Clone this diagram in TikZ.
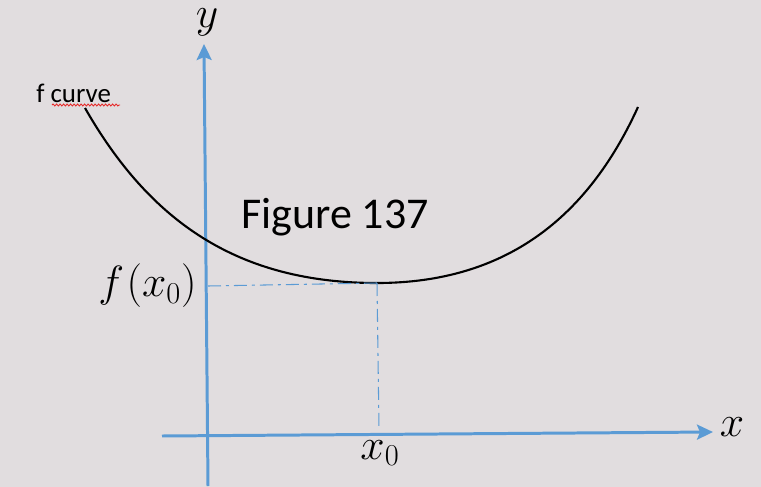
\documentclass[tikz,border=0pt]{standalone}
\usepackage{fontspec}
\setmainfont{Carlito}
\usetikzlibrary{arrows.meta,decorations.pathmorphing}
\definecolor{bgc}{RGB}{225,221,223}
\definecolor{axisblue}{RGB}{91,155,213}
\definecolor{squig}{RGB}{230,40,40}
\tikzset{
  axisline/.style={draw=axisblue, line width=1.7pt, -{Stealth[length=0.32cm,width=0.3cm,inset=0.06cm]}},
  guideline/.style={draw=axisblue, line width=0.6pt, dash pattern=on 0.26cm off 0.1cm on 0.06cm off 0.1cm},
  curveline/.style={draw=black, line width=1.2pt},
  mathlabel/.style={font=\fontsize{23.5}{28}\selectfont, inner sep=0pt},
  titlelabel/.style={font=\fontsize{25}{30}\selectfont, inner sep=0pt, anchor=base west},
  smalllabel/.style={font=\fontsize{15.3}{18}\selectfont, inner sep=0pt, anchor=base west}
}
\begin{document}
\begin{tikzpicture}[x=0.02cm, y=-0.02cm]
  \fill[bgc] (0,0) rectangle (761,487);
  \useasboundingbox (0,0) rectangle (761,487);
  % axes
  \coordinate (yb) at (208,486);
  \coordinate (yt) at (204,44);
  \coordinate (xl) at (162,436);
  \coordinate (xr) at (713,432);
  \draw[axisline] (yb) -- (yt);
  \draw[axisline] (xl) -- (xr);
  % curve
  \coordinate (c0) at (85,108);
  \coordinate (cm) at (377,283);
  \coordinate (c1) at (638,107);
  \draw[curveline] (c0) .. controls (149.5,220.8) and (237,283) .. (cm)
                        .. controls (507,283) and (588.3,216.2) .. (c1);
  % guides
  \coordinate (fy) at (208,286);
  \coordinate (xa) at (379,429);
  \draw[guideline] (fy) -- (cm);
  \draw[guideline] (cm) -- (xa);
  % labels
  \node[mathlabel, anchor=base] (ylab) at (207,27) {$y$};
  \node[mathlabel] (xlab) at (732,427) {$x$};
  \node[mathlabel, anchor=east] (fx0) at (197,286) {$f\mkern1mu(x_0)$};
  \node[mathlabel] (x0) at (380,453) {$x_0$};
  \node[titlelabel] (fig) at (241,228) {Figure 137};
  \node[smalllabel] (fc) at (36,102) {f curve};
  \coordinate (sq0) at (52,105);
  \coordinate (sq1) at (120,105);
  \draw[squig, line width=0.5pt, decorate, decoration={snake, segment length=0.07cm, amplitude=0.02cm}] (sq0) -- (sq1);
\end{tikzpicture}
\end{document}
